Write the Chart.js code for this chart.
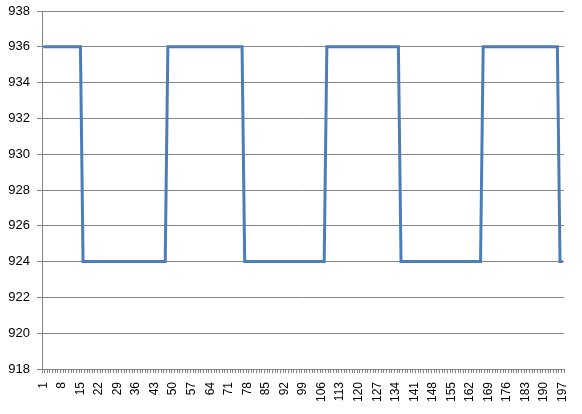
<!DOCTYPE html>
<html>
<head>
<meta charset="utf-8">
<script src="https://cdn.jsdelivr.net/npm/chart.js@4"></script>
<style>
  html, body { margin: 0; padding: 0; background: #fff; }
  #wrap { width: 582px; height: 414px; }
</style>
</head>
<body>
<div id="wrap"><canvas id="chart" width="582" height="414"></canvas></div>
<script>
// categories are just the sample numbers 1..197
var categories = [];
for (var i = 1; i <= 197; i++) categories.push(String(i));

// x labels shown in the picture
var tickLabels = ["1","8","15","22","29","36","43","50","57","64","71","78","85","92","99",
  "106","113","120","127","134","141","148","155","162","169","176","183","190","197"];

// y axis
var yTicks = [918, 920, 922, 924, 926, 928, 930, 932, 934, 936, 938];

// series
var values = [
  936,936,936,936,936,936,936,936,936,936,936,936,936,936,936,
  924,924,924,924,924,924,924,924,924,924,924,924,924,924,924,924,
  924,924,924,924,924,924,924,924,924,924,924,924,924,924,924,924,
  936,936,936,936,936,936,936,936,936,936,936,936,936,936,936,936,
  936,936,936,936,936,936,936,936,936,936,936,936,936,
  924,924,924,924,924,924,924,924,924,924,924,924,924,924,924,924,
  924,924,924,924,924,924,924,924,924,924,924,924,924,924,924,
  936,936,936,936,936,936,936,936,936,936,936,936,936,936,
  936,936,936,936,936,936,936,936,936,936,936,936,936,936,
  924,924,924,924,924,924,924,924,924,924,924,924,924,924,924,924,
  924,924,924,924,924,924,924,924,924,924,924,924,924,924,924,
  936,936,936,936,936,936,936,936,936,936,936,936,936,936,936,
  936,936,936,936,936,936,936,936,936,936,936,936,936,936,
  924,924
];

var axisGray = "#868686";

new Chart("chart", {
  type: "line",
  data: {
    labels: categories,
    datasets: [{
      data: values,
      borderColor: "#4a7ebb",
      borderWidth: 3,
      pointRadius: 0,
      tension: 0,
      fill: false
    }]
  },
  options: {
    responsive: false,
    animation: false,
    layout: { padding: { left: 0, right: 18, top: 11, bottom: 0 } },
    plugins: { legend: { display: false }, tooltip: { enabled: false } },
    scales: {
      x: {
        offset: true,
        grid: { display: true, drawOnChartArea: false, drawTicks: true, tickLength: 4, color: axisGray, offset: true },
        border: { color: axisGray },
        ticks: {
          autoSkip: false,
          maxRotation: 90,
          minRotation: 90,
          padding: 9,
          color: "#000",
          font: { family: "Liberation Sans", size: 12 },
          callback: function(v, idx) {
            var lab = categories[idx];
            return tickLabels.indexOf(lab) >= 0 ? lab : "";
          }
        },
        afterFit: function(scale) {
          scale.height = 45;
          scale.paddingLeft = 0;
          scale.paddingRight = 0;
        }
      },
      y: {
        min: 918,
        max: 938,
        afterBuildTicks: function(scale) {
          scale.ticks = yTicks.map(function(v) { return { value: v }; });
        },
        grid: { color: axisGray, drawTicks: true, tickLength: 5 },
        border: { color: axisGray },
        ticks: {
          padding: 7,
          color: "#000",
          font: { family: "Liberation Sans", size: 13 }
        },
        afterFit: function(scale) {
          scale.width = 42;
          scale.paddingTop = 0;
          scale.paddingBottom = 0;
        }
      }
    }
  }
});
</script>
</body>
</html>
